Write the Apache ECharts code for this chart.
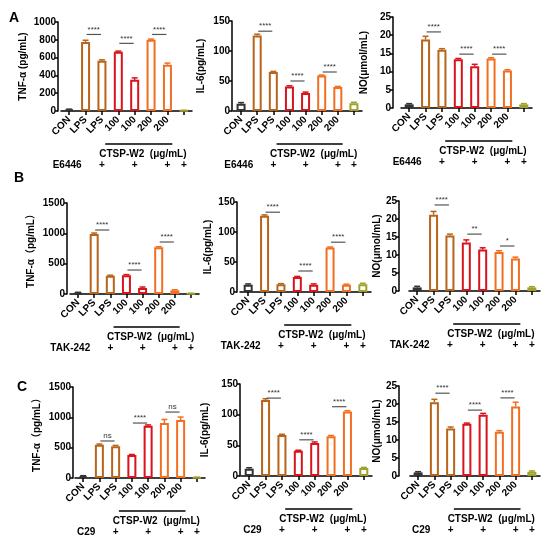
<!DOCTYPE html>
<html>
<head>
<meta charset="utf-8">
<title>CTSP-W2 cytokines</title>
<script src="https://cdn.jsdelivr.net/npm/echarts@6/dist/echarts.min.js"></script>
<style>
  html, body { margin: 0; padding: 0; background: #fff; }
  #chart { width: 550px; height: 540px; }
</style>
</head>
<body>
<div id="chart"></div>
<script>
// ---- data ----
var categories = ['CON', 'LPS', 'LPS', '100', '100', '200', '200', ''];

// row A : E6446
var tnfA = [15, 775, 565, 665, 350, 800, 520, 5];
var tnfASd = [6, 20, 10, 8, 22, 8, 18, 2];
var il6A = [12, 126, 65, 41, 30, 59, 40, 13];
var il6ASd = [2, 2, 1, 1, 1.5, 1, 1, 1.5];
var noA = [1, 18.8, 16, 13.4, 11.5, 13.6, 10.3, 1];
var noASd = [0.2, 0.9, 0.3, 0.2, 0.5, 0.2, 0.2, 0.2];

// row B : TAK-242
var tnfB = [20, 990, 300, 310, 100, 770, 60, 8];
var tnfBSd = [8, 15, 10, 10, 15, 10, 10, 3];
var il6B = [12, 127, 13, 25, 12, 74, 12, 13];
var il6BSd = [1.5, 1.5, 1, 1, 1.5, 1, 1, 1.5];
var noB = [1, 21.2, 15.4, 13.5, 11.5, 10.8, 9, 1];
var noBSd = [0.3, 0.9, 0.4, 0.7, 0.5, 0.4, 0.4, 0.2];

// row C : C29
var tnfC = [30, 550, 525, 380, 860, 905, 955, 10];
var tnfCSd = [8, 10, 12, 8, 15, 60, 50, 3];
var il6C = [12, 124, 67, 41, 54, 65, 105, 13];
var il6CSd = [1.5, 2, 1, 1, 1.5, 1, 1.5, 1];
var noC = [1, 20.5, 13.2, 14.5, 17, 12.3, 19.3, 1.2];
var noCSd = [0.2, 0.8, 0.4, 0.2, 0.4, 0.3, 1.2, 0.2];

// significance brackets: [from category, to category, height in data units]
var sigA1 = [[1, 2, 860], [3, 4, 760], [5, 6, 860]];
var sigA2 = [[1, 2, 133], [3, 4, 50], [5, 6, 65]];
var sigA3 = [[1, 2, 20.9], [3, 4, 14.8], [5, 6, 14.8]];
var sigB1 = [[1, 2, 1055], [3, 4, 395], [5, 6, 857]];
var sigB2 = [[1, 2, 133], [3, 4, 35], [5, 6, 83]];
var sigB3 = [[1, 2, 23.9], [3, 4, 15.8], [5, 6, 12.5]];
var sigC1 = [[1, 2, 610], [3, 4, 906], [5, 6, 1087]];
var sigC2 = [[1, 2, 127], [3, 4, 59], [5, 6, 113]];
var sigC3 = [[1, 2, 23], [3, 4, 18.3], [5, 6, 21.7]];
var starsA = ['****', '****', '****'];
var starsB3 = ['****', '**', '*'];
var starsC1 = ['ns', '****', 'ns'];

// categories marked "+" for the inhibitor row
var plusAt = [2, 4, 6, 7];

// ---- styling ----
var FONT = 'Liberation Sans, Arial, Noto Sans CJK SC, sans-serif';
var barColors = ['#333333', '#b8651b', '#b8651b', '#d8141c', '#d8141c', '#f26f21', '#f26f21', '#a0a12a'];

var panels = [
  { box: [61, 22, 131, 89], off: 3, gap: 30, name: 'TNF-α (pg/mL)', max: 1000, step: 200, v: tnfA, sd: tnfASd, sig: sigA1, stars: starsA, inh: 'E6446' },
  { box: [233, 21, 129, 90], off: 1, gap: 26, name: 'IL-6(pg/mL)', max: 150, step: 50, v: il6A, sd: il6ASd, sig: sigA2, stars: starsA, inh: 'E6446' },
  { box: [401, 17, 131, 91], off: 8, gap: 24, name: 'NO(μmol/mL)', max: 25, step: 5, v: noA, sd: noASd, sig: sigA3, stars: starsA, inh: 'E6446' },
  { box: [70, 203, 129, 91], off: 3, gap: 31, name: 'TNF-α（pg/mL）', max: 1500, step: 500, v: tnfB, sd: tnfBSd, sig: sigB1, stars: starsA, inh: 'TAK-242' },
  { box: [240, 202, 131, 90], off: 3, gap: 24, name: 'IL-6(pg/mL)', max: 150, step: 50, v: il6B, sd: il6BSd, sig: sigB2, stars: starsA, inh: 'TAK-242' },
  { box: [409, 201, 131, 90], off: 10, gap: 13, name: 'NO(μmol/mL)', max: 25, step: 5, v: noB, sd: noBSd, sig: sigB3, stars: starsB3, inh: 'TAK-242' },
  { box: [75, 387, 130, 91], off: 2, gap: 31, name: 'TNF-α（pg/mL）', max: 1500, step: 500, v: tnfC, sd: tnfCSd, sig: sigC1, stars: starsC1, inh: 'C29' },
  { box: [241, 384, 131, 92], off: 1, gap: 30, name: 'IL-6(pg/mL)', max: 150, step: 50, v: il6C, sd: il6CSd, sig: sigC2, stars: starsA, inh: 'C29' },
  { box: [410, 386, 130, 90], off: 11, gap: 12, name: 'NO(μmol/mL)', max: 25, step: 5, v: noC, sd: noCSd, sig: sigC3, stars: starsA, inh: 'C29' }
];

var axisLine = { show: true, lineStyle: { color: '#000', width: 1.5 } };
var grids = [], xAxes = [], yAxes = [], series = [];

// error bar: vertical whisker plus cap, in the bar colour
var errorBar = function (params, api) {
  var i = api.value(0);
  var top = api.coord([i, api.value(1) + api.value(2)]);
  var mid = api.coord([i, api.value(1)]);
  var c = barColors[i];
  return {
    type: 'group',
    children: [
      { type: 'line', shape: { x1: mid[0], y1: mid[1], x2: top[0], y2: top[1] }, style: { stroke: c, lineWidth: 1.5 } },
      { type: 'line', shape: { x1: top[0] - 3, y1: top[1], x2: top[0] + 3, y2: top[1] }, style: { stroke: c, lineWidth: 1.5 } }
    ]
  };
};

var sigMark = function (p) {
  return function (params, api) {
    var a = api.coord([api.value(0), api.value(2)]);
    var b = api.coord([api.value(1), api.value(2)]);
    return {
      type: 'group',
      children: [
        { type: 'line', shape: { x1: a[0] + 1, y1: a[1], x2: b[0] - 1, y2: b[1] }, style: { stroke: '#555', lineWidth: 1.2 } },
        { type: 'text', x: (a[0] + b[0]) / 2, y: a[1] - 1,
          style: { text: p.stars[params.dataIndex], fill: '#333', font: '8px ' + FONT, align: 'center', verticalAlign: 'bottom' } }
      ]
    };
  };
};

var notes = function (p) {
  return function (params, api) {
    var y0 = api.coord([0, 0])[1];
    var band = api.size([1, 0])[0];
    var x = function (i) { return api.coord([i, 0])[0]; };
    var kids = [
      { type: 'line', shape: { x1: x(3) - 0.8 * band, y1: y0 + 33, x2: x(6) + 0.3 * band, y2: y0 + 33 }, style: { stroke: '#000', lineWidth: 1.5 } },
      { type: 'text', x: (x(3) + x(6)) / 2, y: y0 + 43,
        style: { text: 'CTSP-W2  (μg/mL)', fill: '#000', font: 'bold 10px ' + FONT, align: 'center', verticalAlign: 'middle' } },
      { type: 'text', x: x(1) - 4, y: y0 + 54,
        style: { text: p.inh, fill: '#000', font: 'bold 10px ' + FONT, align: 'right', verticalAlign: 'middle' } }
    ];
    plusAt.forEach(function (c) {
      kids.push({ type: 'text', x: x(c), y: y0 + 54,
        style: { text: '+', fill: '#000', font: 'bold 10px ' + FONT, align: 'center', verticalAlign: 'middle' } });
    });
    return { type: 'group', children: kids };
  };
};

panels.forEach(function (p, k) {
  grids.push({ left: p.box[0], top: p.box[1], width: p.box[2], height: p.box[3], containLabel: false });
  xAxes.push({
    type: 'category', gridIndex: k, data: categories,
    axisLine: axisLine,
    axisTick: { show: true, alignWithLabel: true, length: 4, lineStyle: { color: '#000', width: 1.5 } },
    axisLabel: { rotate: 45, margin: 7, interval: 0, color: '#000', fontWeight: 'bold', fontSize: 10, fontFamily: FONT },
    splitLine: { show: false }
  });
  yAxes.push({
    type: 'value', gridIndex: k, min: 0, max: p.max, interval: p.step, offset: p.off,
    name: p.name, nameLocation: 'middle', nameGap: p.gap, nameRotate: 90,
    nameTextStyle: { color: '#000', fontWeight: 'bold', fontSize: 10, fontFamily: FONT },
    axisLine: axisLine,
    axisTick: { show: true, length: 3, lineStyle: { color: '#000', width: 1.5 } },
    axisLabel: { margin: 2, color: '#000', fontWeight: 'bold', fontSize: 10, fontFamily: FONT,
      formatter: function (v) { return String(v); } },
    splitLine: { show: false }
  });
  series.push({
    type: 'bar', xAxisIndex: k, yAxisIndex: k, barWidth: 9,
    data: p.v.map(function (val, i) {
      return { value: val, itemStyle: { color: '#fff', borderColor: barColors[i], borderWidth: 2 } };
    })
  });
  series.push({
    type: 'custom', xAxisIndex: k, yAxisIndex: k, clip: false, z: 3,
    renderItem: errorBar,
    data: p.v.map(function (val, i) { return [i, val, p.sd[i]]; })
  });
  series.push({
    type: 'custom', xAxisIndex: k, yAxisIndex: k, clip: false, z: 4,
    renderItem: sigMark(p), data: p.sig
  });
  series.push({
    type: 'custom', xAxisIndex: k, yAxisIndex: k, clip: false, z: 4,
    renderItem: notes(p), data: [[0, 0]]
  });
});

var chart = echarts.init(document.getElementById('chart'));
chart.setOption({
  animation: false,
  textStyle: { fontFamily: FONT },
  title: [
    { text: 'A', left: 4, top: 6, textStyle: { fontSize: 14, fontWeight: 'bold', color: '#000', fontFamily: FONT } },
    { text: 'B', left: 9, top: 166, textStyle: { fontSize: 14, fontWeight: 'bold', color: '#000', fontFamily: FONT } },
    { text: 'C', left: 12, top: 375, textStyle: { fontSize: 14, fontWeight: 'bold', color: '#000', fontFamily: FONT } }
  ],
  grid: grids,
  xAxis: xAxes,
  yAxis: yAxes,
  series: series
});
</script>
</body>
</html>
